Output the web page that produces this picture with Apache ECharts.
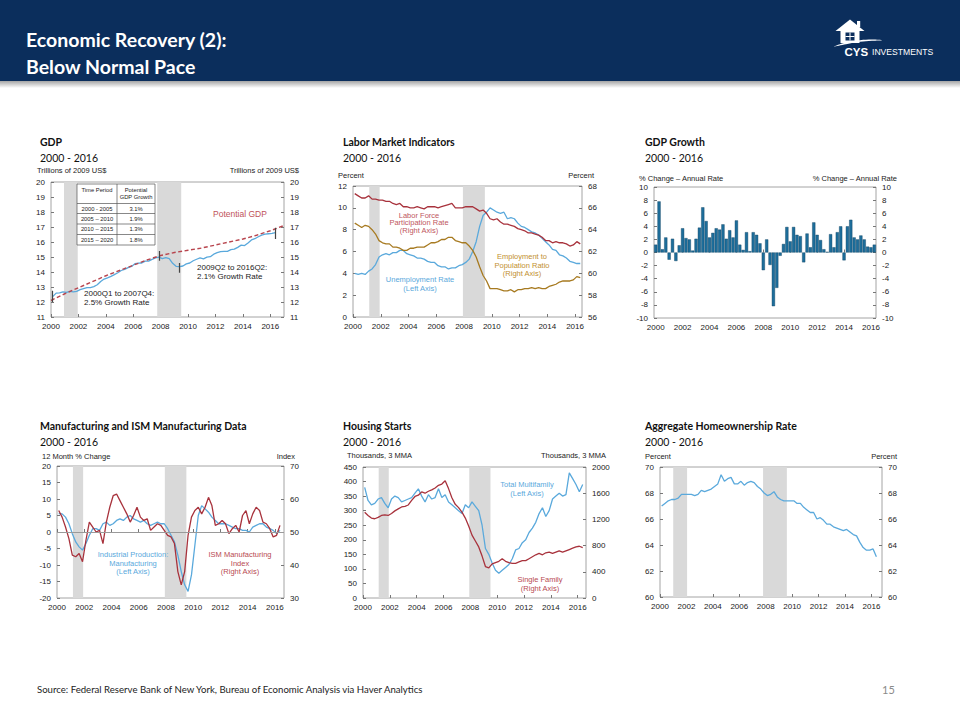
<!DOCTYPE html>
<html><head><meta charset="utf-8">
<script src="https://cdn.jsdelivr.net/npm/echarts/dist/echarts.min.js"></script>
<style>html,body{margin:0;padding:0;background:#fff}#c{width:960px;height:720px}</style>
</head><body><div id="c"></div>
<script>
// ---------- DATA (quarterly, 2000Q1 - 2016Q2) ----------
const quarters = [];
for (let y = 2000; y <= 2016; y++) for (let q = 1; q <= 4; q++) if (!(y === 2016 && q > 2)) quarters.push(y + 'Q' + q);

const realGDP = [12.36,12.59,12.61,12.68, 12.64,12.71,12.67,12.71, 12.82,12.89,12.96,12.96, 13.03,13.15,13.37,13.53,
  13.61,13.71,13.83,13.95, 14.10,14.17,14.29,14.37, 14.55,14.59,14.60,14.72, 14.73,14.84,14.94,14.99,
  14.89,14.96,14.89,14.58, 14.38,14.36,14.40,14.54, 14.60,14.75,14.85,14.94, 14.88,14.99,15.02,15.19,
  15.29,15.36,15.38,15.38, 15.49,15.52,15.64,15.79, 15.76,15.94,16.14,16.22, 16.35,16.46,16.53,16.55, 16.57,16.62];
const potentialYears = [2000,2001,2002,2003,2004,2005,2006,2007,2008,2009,2010,2011,2012,2013,2014,2015,2016,2017];
const potentialGDP = [12.1,12.55,12.95,13.35,13.75,14.1,14.45,14.8,15.1,15.3,15.45,15.6,15.8,16.0,16.2,16.45,16.75,17.1];
const gdpPeriodMarks = [['2000Q1',12.0,12.75],['2007Q4',14.75,15.4],['2009Q2',13.95,14.6],['2016Q2',16.2,16.95]];
const gdpTable = [['Time Period','Potential|GDP Growth'],['2000 - 2005','3.1%'],['2005 – 2010','1.9%'],['2010 – 2015','1.3%'],['2015 – 2020','1.8%']];

const unemployment = [4.0,3.9,4.0,3.9, 4.2,4.4,4.8,5.5, 5.7,5.8,5.7,5.9, 5.9,6.1,6.1,5.8, 5.7,5.6,5.4,5.4, 5.3,5.1,5.0,5.0,
  4.7,4.6,4.6,4.4, 4.5,4.5,4.7,4.8, 5.0,5.3,6.0,6.9, 8.3,9.3,9.6,10.0, 9.8,9.6,9.5,9.6, 9.0,9.1,9.0,8.6,
  8.3,8.2,8.0,7.8, 7.7,7.5,7.2,6.9, 6.6,6.2,6.1,5.7, 5.6,5.4,5.1,5.0, 4.9,4.9];
const participation = [67.3,67.1,66.9,66.9, 67.1,66.8,66.8,66.7, 66.7,66.6,66.6,66.4, 66.3,66.4,66.1,66.1, 66.0,66.0,66.1,66.0,
  65.9,66.1,66.1,66.1, 66.0,66.1,66.2,66.3, 66.4,66.0,66.0,66.0, 66.1,66.1,66.1,65.9, 65.7,65.8,65.5,65.0,
  64.9,65.0,64.7,64.5, 64.5,64.4,64.3,64.1, 64.0,63.9,63.7,63.7, 63.6,63.5,63.3,63.0, 63.0,62.8,62.9,62.8,
  62.8,62.7,62.5,62.6, 62.9,62.7];
const empPop = [64.6,64.4,64.2,64.4, 64.3,64.0,63.6,63.0, 62.8,62.7,62.7,62.4, 62.4,62.3,62.1,62.1, 62.3,62.3,62.4,62.4,
  62.4,62.6,62.8,62.8, 62.9,63.1,63.1,63.3, 63.3,63.0,62.9,62.8, 62.8,62.5,62.1,61.5, 60.6,59.8,59.3,58.6,
  58.6,58.6,58.5,58.4, 58.4,58.5,58.3,58.5, 58.5,58.6,58.6,58.7, 58.6,58.7,58.6,58.6, 58.8,58.9,59.0,59.2,
  59.3,59.3,59.3,59.4, 59.7,59.6];

const gdpGrowth = [1.2,7.8,0.5,2.3, -1.1,2.1,-1.3,1.1, 3.7,2.2,2.0,0.3, 2.1,3.8,6.9,4.8, 2.3,3.0,3.7,3.5,
  4.3,2.1,3.4,2.3, 4.9,1.2,0.4,3.1, 0.2,3.1,2.7,1.4, -2.7,2.0,-1.9,-8.2, -5.4,-0.5,1.3,3.9,
  1.7,3.9,2.7,2.5, -1.5,2.9,0.8,4.6, 2.7,1.9,0.5,0.1, 2.8,0.8,3.1,4.0, -1.2,4.0,5.0,2.3, 2.0,2.6,2.0,0.9, 0.8,1.2];

const ipManufacturing = [5.6,5.5,4.5,2.5, -0.5,-3.0,-4.5,-5.5, -3.5,-1.0,1.0,1.0, 0.5,2.5,3.0,2.0, 2.5,3.5,4.0,3.5,
  4.5,5.0,4.0,3.5, 3.0,3.5,2.5,2.0, 2.5,3.0,2.5,2.5, 1.0,-1.0,-3.0,-7.0, -12.0,-16.0,-18.0,-13.0,
  -4.0,5.0,8.0,7.0, 6.0,4.5,3.5,2.5, 2.5,2.5,2.0,1.5, 1.0,1.0,0.5,0.5, 0.0,1.5,2.0,2.5, 2.5,1.5,1.0,0.5, -0.5,0.5];
const ismIndex = [56.5,54.5,51.5,48.0, 43.0,42.5,43.5,41.0, 47.5,53.0,51.5,50.0, 50.5,46.5,53.0,57.5, 61.0,61.5,59.5,57.5,
  55.5,53.0,55.0,57.5, 54.5,53.5,54.0,50.5, 51.5,52.5,52.0,50.5, 49.0,48.5,46.5,38.0, 34.0,38.0,49.0,54.5,
  56.5,57.5,55.5,57.5, 60.5,58.0,52.0,52.5, 53.5,52.5,49.5,51.0, 52.0,50.0,55.0,56.5, 52.5,55.5,57.5,56.5,
  53.0,52.5,51.0,48.5, 49.0,52.0];

const multifamily = [380,335,320,325, 340,345,325,310, 340,350,345,330, 335,340,345,360, 375,350,330,355,
  340,345,375,345, 355,330,320,310, 300,290,320,310, 330,315,300,250, 170,150,120,95,
  85,95,105,115, 135,165,170,190, 200,225,240,260, 290,310,280,300, 340,350,360,350, 355,430,410,390, 365,390];
const singleFamily = [1310,1260,1220,1210, 1230,1260,1270,1260, 1290,1330,1360,1390, 1400,1420,1490,1550, 1570,1620,1600,1630,
  1650,1680,1720,1740, 1790,1670,1530,1430, 1380,1310,1220,1100, 960,870,780,640, 480,460,520,540,
  560,600,560,540, 530,530,550,570, 570,600,630,660, 680,660,690,700, 680,700,720,700, 720,740,760,780, 790,770];

const homeownership = [67.0,67.2,67.4,67.5, 67.5,67.6,67.9,67.9, 67.9,67.9,67.8,67.9, 68.2,68.1,68.2,68.3, 68.5,68.7,69.4,68.9,
  69.1,69.2,68.7,68.7, 68.9,68.6,68.8,68.9, 68.8,68.5,68.3,68.0, 67.8,67.9,68.1,67.7, 67.5,67.4,67.4,67.4,
  67.4,67.2,67.2,66.9, 66.7,66.5,66.5,66.0, 66.1,65.9,65.6,65.6, 65.4,65.3,65.2,65.1, 65.2,65.0,64.8,64.7,
  64.2,63.8,63.6,63.6, 63.7,63.1];

const recessionsQuarterly = [[2000.95, 2001.95], [2007.75, 2009.5]];
const recessionsMonthly = [[2001.17, 2001.92], [2007.92, 2009.5]];
const recessionsHome = [[2001.0, 2002.05], [2007.8, 2009.6]];

// ---------- HELPERS ----------
const qx = i => 2000.125 + 0.25 * i;
const qLabelX = s => qx(quarters.indexOf(s));
const pairs = arr => arr.map((v, i) => [qx(i), v]);
const C = { blue: '#5aa9dc', red: '#a8323c', dash: '#b8454e', brown: '#a77a20', band: '#d9d9d9', bar: '#1d6e9b', barEdge: '#103f5d' };
const AX = 'Liberation Sans, Arial, sans-serif';
const TF = 'Lato, "Open Sans", sans-serif';

const grids = [
  { left: 51, top: 182, width: 233, height: 135 },
  { left: 353, top: 186, width: 229, height: 131 },
  { left: 654, top: 187, width: 222, height: 131 },
  { left: 57, top: 466, width: 227, height: 132 },
  { left: 363, top: 467, width: 223, height: 131 },
  { left: 660, top: 467, width: 222, height: 130 }
].map(g => Object.assign({ show: true, borderColor: '#8e8e8e', borderWidth: 0.8, backgroundColor: 'transparent' }, g));

const xMax = [2017, 2016.5, null, 2016.67, 2016.62, 2016.8];
const xAxes = grids.map((g, i) => {
  if (i === 2) return {
    type: 'category', gridIndex: 2, data: quarters, boundaryGap: true,
    axisLine: { show: false },
    axisTick: { show: true, inside: true, length: 3, alignWithLabel: true, interval: (idx) => idx % 8 === 0, lineStyle: { color: '#777' } },
    axisLabel: { fontSize: 8, color: '#222', fontFamily: AX, margin: 5, interval: (idx) => idx % 8 === 0, formatter: v => v.slice(0, 4) },
    splitLine: { show: false }
  };
  return {
    type: 'value', gridIndex: i, min: 2000, max: xMax[i], interval: 2,
    axisLine: { show: false },
    axisTick: { show: true, inside: true, length: 3, lineStyle: { color: '#777' } },
    axisLabel: { fontSize: 8, color: '#222', fontFamily: AX, margin: 5, showMaxLabel: false, formatter: v => String(Math.round(v)) },
    splitLine: { show: false }
  };
});
const yRanges = [
  [[11, 20, 1], [11, 20, 1]],
  [[0, 12, 2], [56, 68, 2]],
  [[-10, 10, 2], [-10, 10, 2]],
  [[-20, 20, 5], [30, 70, 10]],
  [[0, 450, 50], [0, 2000, 400]],
  [[60, 70, 2], [60, 70, 2]]
];
const yAxes = [];
yRanges.forEach((pair, g) => pair.forEach((r, side) => yAxes.push({
  type: 'value', gridIndex: g, position: side ? 'right' : 'left', min: r[0], max: r[1], interval: r[2],
  axisLine: { show: false },
  axisTick: { show: true, inside: true, length: 3, lineStyle: { color: '#777' } },
  axisLabel: { fontSize: 8, color: '#222', fontFamily: AX, margin: 6, formatter: v => String(v) },
  splitLine: { show: false }
})));
const bands = arr => ({ silent: true, itemStyle: { color: C.band }, data: arr.map(b => [{ xAxis: b[0] }, { xAxis: b[1] }]) });
const line = (name, data, g, side, color, extra) => Object.assign({
  type: 'line', name, data, xAxisIndex: g, yAxisIndex: g * 2 + side, showSymbol: false, symbol: 'none',
  lineStyle: { color, width: 1.3 }, silent: true, z: 3
}, extra || {});

const series = [
  line('Real GDP', pairs(realGDP), 0, 0, C.blue, {
    markArea: bands(recessionsQuarterly),
    markLine: { silent: true, symbol: 'none', label: { show: false }, lineStyle: { color: '#444', width: 1.2, type: 'solid' },
      data: gdpPeriodMarks.map(m => [{ coord: [qLabelX(m[0]), m[1]] }, { coord: [qLabelX(m[0]), m[2]] }]) }
  }),
  line('Potential GDP', potentialYears.map((y, i) => [y, potentialGDP[i]]), 0, 0, C.dash, { lineStyle: { color: C.dash, width: 1.4, type: [4, 2.5] } }),
  line('Unemployment Rate', pairs(unemployment), 1, 0, C.blue, { markArea: bands(recessionsMonthly) }),
  line('Labor Force Participation Rate', pairs(participation), 1, 1, C.red),
  line('Employment to Population Ratio', pairs(empPop), 1, 1, C.brown),
  { type: 'bar', name: 'GDP Growth', data: gdpGrowth, xAxisIndex: 2, yAxisIndex: 4, barCategoryGap: '6%', silent: true,
    itemStyle: { color: C.bar, borderColor: C.barEdge, borderWidth: 0.4 } },
  line('Industrial Production: Manufacturing', pairs(ipManufacturing), 3, 0, C.blue, {
    markArea: bands(recessionsMonthly),
    markLine: { silent: true, symbol: 'none', label: { show: false }, lineStyle: { color: '#9a9a9a', width: 1, type: 'solid' }, data: [{ yAxis: 0 }] }
  }),
  line('ISM Manufacturing Index', pairs(ismIndex), 3, 1, C.red),
  line('Total Multifamily', pairs(multifamily), 4, 0, C.blue, { markArea: bands(recessionsMonthly) }),
  line('Single Family', pairs(singleFamily), 4, 1, C.red),
  line('Homeownership Rate', pairs(homeownership), 5, 0, C.blue, { markArea: bands(recessionsHome) })
];

// ---------- TEXT / DECORATION ----------
const T = (text, x, y, o) => Object.assign({ type: 'text', x, y, z: 100, silent: true,
  style: Object.assign({ text, fill: '#222', fontSize: 7.5, fontFamily: AX, align: 'left', textAlign: 'left', verticalAlign: 'middle', textVerticalAlign: 'middle' }, o || {}) });
const TC = (text, x, y, o) => T(text, x, y, Object.assign({ align: 'center', textAlign: 'center' }, o || {}));
const TR = (text, x, y, o) => T(text, x, y, Object.assign({ align: 'right', textAlign: 'right' }, o || {}));
const navy = '#0b2e5c';
const els = [
  { type: 'rect', shape: { x: 0, y: 0, width: 960, height: 81 }, style: { fill: navy }, z: 90 },
  { type: 'rect', shape: { x: 0, y: 81, width: 960, height: 7 }, z: 90,
    style: { fill: { type: 'linear', x: 0, y: 0, x2: 0, y2: 1, colorStops: [{ offset: 0, color: '#a5a5a5' }, { offset: 1, color: '#ffffff' }] } } },
  T('Economic Recovery (2):', 26, 39, { fill: '#fff', fontSize: 19.5, fontWeight: 'bold', fontFamily: TF }),
  T('Below Normal Pace', 26, 66.5, { fill: '#fff', fontSize: 19.5, fontWeight: 'bold', fontFamily: TF }),
  // logo
  { type: 'polygon', z: 100, shape: { points: [[835.5, 31], [850, 19.5], [864.5, 31]] }, style: { fill: '#fff' } },
  { type: 'rect', z: 100, shape: { x: 857, y: 21, width: 3.2, height: 6 }, style: { fill: '#fff' } },
  { type: 'rect', z: 100, shape: { x: 840.5, y: 30, width: 19, height: 13 }, style: { fill: '#fff' } },
  { type: 'rect', z: 101, shape: { x: 845.5, y: 32.5, width: 9, height: 8 }, style: { fill: navy } },
  { type: 'line', z: 102, shape: { x1: 850, y1: 32.5, x2: 850, y2: 40.5 }, style: { stroke: '#fff', lineWidth: 1 } },
  { type: 'line', z: 102, shape: { x1: 845.5, y1: 36.5, x2: 854.5, y2: 36.5 }, style: { stroke: '#fff', lineWidth: 1 } },
  { type: 'polygon', z: 100, shape: { smooth: 0.4, points: [[834, 46.5], [846, 42.5], [860, 40.3], [872, 39.6], [882, 40.2], [872, 40.8], [860, 41.8], [846, 44.2]] }, style: { fill: '#fff' } },
  T('CYS', 844.5, 51.5, { fill: '#fff', fontSize: 11.5, fontWeight: 'bold', fontFamily: AX }),
  T('INVESTMENTS', 872, 52, { fill: '#fff', fontSize: 8.6, fontFamily: AX }),
  // chart titles
  T('GDP', 40, 142, { fontSize: 10.5, fontWeight: 'bold', fontFamily: TF, fill: '#111' }),
  T('2000 - 2016', 40, 158, { fontSize: 10.5, fontFamily: TF, fill: '#111' }),
  T('Labor Market Indicators', 343, 142, { fontSize: 10.5, fontWeight: 'bold', fontFamily: TF, fill: '#111' }),
  T('2000 - 2016', 343, 158, { fontSize: 10.5, fontFamily: TF, fill: '#111' }),
  T('GDP Growth', 645, 142, { fontSize: 10.5, fontWeight: 'bold', fontFamily: TF, fill: '#111' }),
  T('2000 - 2016', 645, 158, { fontSize: 10.5, fontFamily: TF, fill: '#111' }),
  T('Manufacturing and ISM Manufacturing Data', 40, 426, { fontSize: 10.5, fontWeight: 'bold', fontFamily: TF, fill: '#111' }),
  T('2000 - 2016', 40, 442, { fontSize: 10.5, fontFamily: TF, fill: '#111' }),
  T('Housing Starts', 343, 426, { fontSize: 10.5, fontWeight: 'bold', fontFamily: TF, fill: '#111' }),
  T('2000 - 2016', 343, 442, { fontSize: 10.5, fontFamily: TF, fill: '#111' }),
  T('Aggregate Homeownership Rate', 645, 426, { fontSize: 10.5, fontWeight: 'bold', fontFamily: TF, fill: '#111' }),
  T('2000 - 2016', 645, 442, { fontSize: 10.5, fontFamily: TF, fill: '#111' }),
  // axis names
  T('Trillions of 2009 US$', 37, 170), TR('Trillions of 2009 US$', 299, 170),
  T('Percent', 338, 175), TR('Percent', 594, 175),
  T('% Change – Annual Rate', 639, 178), TR('% Change – Annual Rate', 897, 178),
  T('12 Month % Change', 42, 456), TR('Index', 295, 456),
  T('Thousands, 3 MMA', 347, 455), TR('Thousands, 3 MMA', 606, 455),
  T('Percent', 645, 456), TR('Percent', 897, 456),
  // GDP annotations
  T('Potential GDP', 213, 213.5, { fill: '#c0525a', fontSize: 8.5 }),
  T('2009Q2 to 2016Q2:', 197, 267, { fontSize: 8 }), T('2.1% Growth Rate', 197, 276, { fontSize: 8 }),
  T('2000Q1 to 2007Q4:', 84, 293.5, { fontSize: 8 }), T('2.5% Growth Rate', 84, 302.5, { fontSize: 8 }),
  // Labor annotations
  TC('Labor Force', 419, 215, { fill: '#c0565e' }), TC('Participation Rate', 419, 222.5, { fill: '#c0565e' }), TC('(Right Axis)', 419, 230, { fill: '#c0565e' }),
  TC('Employment to', 522, 256.5, { fill: '#c2902f' }), TC('Population Ratio', 522, 265, { fill: '#c2902f' }), TC('(Right Axis)', 522, 273.5, { fill: '#c2902f' }),
  TC('Unemployment Rate', 420, 279.5, { fill: '#5aa9dc' }), TC('(Left Axis)', 420, 288, { fill: '#5aa9dc' }),
  // Manufacturing annotations
  TC('Industrial Production:', 133, 554.5, { fill: '#5aa9dc' }), TC('Manufacturing', 133, 563, { fill: '#5aa9dc' }), TC('(Left Axis)', 133, 571.5, { fill: '#5aa9dc' }),
  TC('ISM Manufacturing', 240, 554.5, { fill: '#b84a52' }), TC('Index', 240, 563, { fill: '#b84a52' }), TC('(Right Axis)', 240, 571.5, { fill: '#b84a52' }),
  // Housing annotations
  TC('Total Multifamily', 527, 484.5, { fill: '#5aa9dc' }), TC('(Left Axis)', 527, 493.5, { fill: '#5aa9dc' }),
  TC('Single Family', 540, 579.5, { fill: '#b84a52' }), TC('(Right Axis)', 540, 588.5, { fill: '#b84a52' }),
  // footer
  T('Source: Federal Reserve Bank of New York, Bureau of Economic Analysis via Haver Analytics', 37, 689, { fontSize: 9.6, fontFamily: TF, fill: '#222' }),
  T('15', 882, 689, { fontSize: 11, fontFamily: TF, fill: '#8a8a8a' })
];
// GDP potential-growth table
const tb = { x: 77, y: 184, w: 78, col: 117, rows: [184, 203.5, 213.5, 224, 234.5, 245] };
els.push({ type: 'rect', z: 99, shape: { x: tb.x, y: tb.y, width: tb.w, height: tb.rows[5] - tb.y }, style: { fill: '#fff', stroke: '#555', lineWidth: 0.7 } });
els.push({ type: 'line', z: 100, shape: { x1: tb.col, y1: tb.y, x2: tb.col, y2: tb.rows[5] }, style: { stroke: '#555', lineWidth: 0.7 } });
for (let r = 1; r < 5; r++) els.push({ type: 'line', z: 100, shape: { x1: tb.x, y1: tb.rows[r], x2: tb.x + tb.w, y2: tb.rows[r] }, style: { stroke: '#555', lineWidth: 0.7 } });
gdpTable.forEach((row, r) => {
  const cy = (tb.rows[r] + tb.rows[r + 1]) / 2;
  els.push(TC(row[0], (tb.x + tb.col) / 2, r === 0 ? cy - 3.5 : cy, { fontSize: 5.8 }));
  const parts = row[1].split('|');
  if (parts.length === 2) {
    els.push(TC(parts[0], (tb.col + tb.x + tb.w) / 2, cy - 3.5, { fontSize: 5.8 }));
    els.push(TC(parts[1], (tb.col + tb.x + tb.w) / 2, cy + 3.5, { fontSize: 5.8 }));
  } else els.push(TC(parts[0], (tb.col + tb.x + tb.w) / 2, cy, { fontSize: 5.8 }));
});

const chart = echarts.init(document.getElementById('c'), null, { renderer: 'svg', width: 960, height: 720 });
chart.setOption({
  animation: false, backgroundColor: '#fff',
  grid: grids, xAxis: xAxes, yAxis: yAxes, series,
  graphic: { elements: els }
});
</script></body></html>
